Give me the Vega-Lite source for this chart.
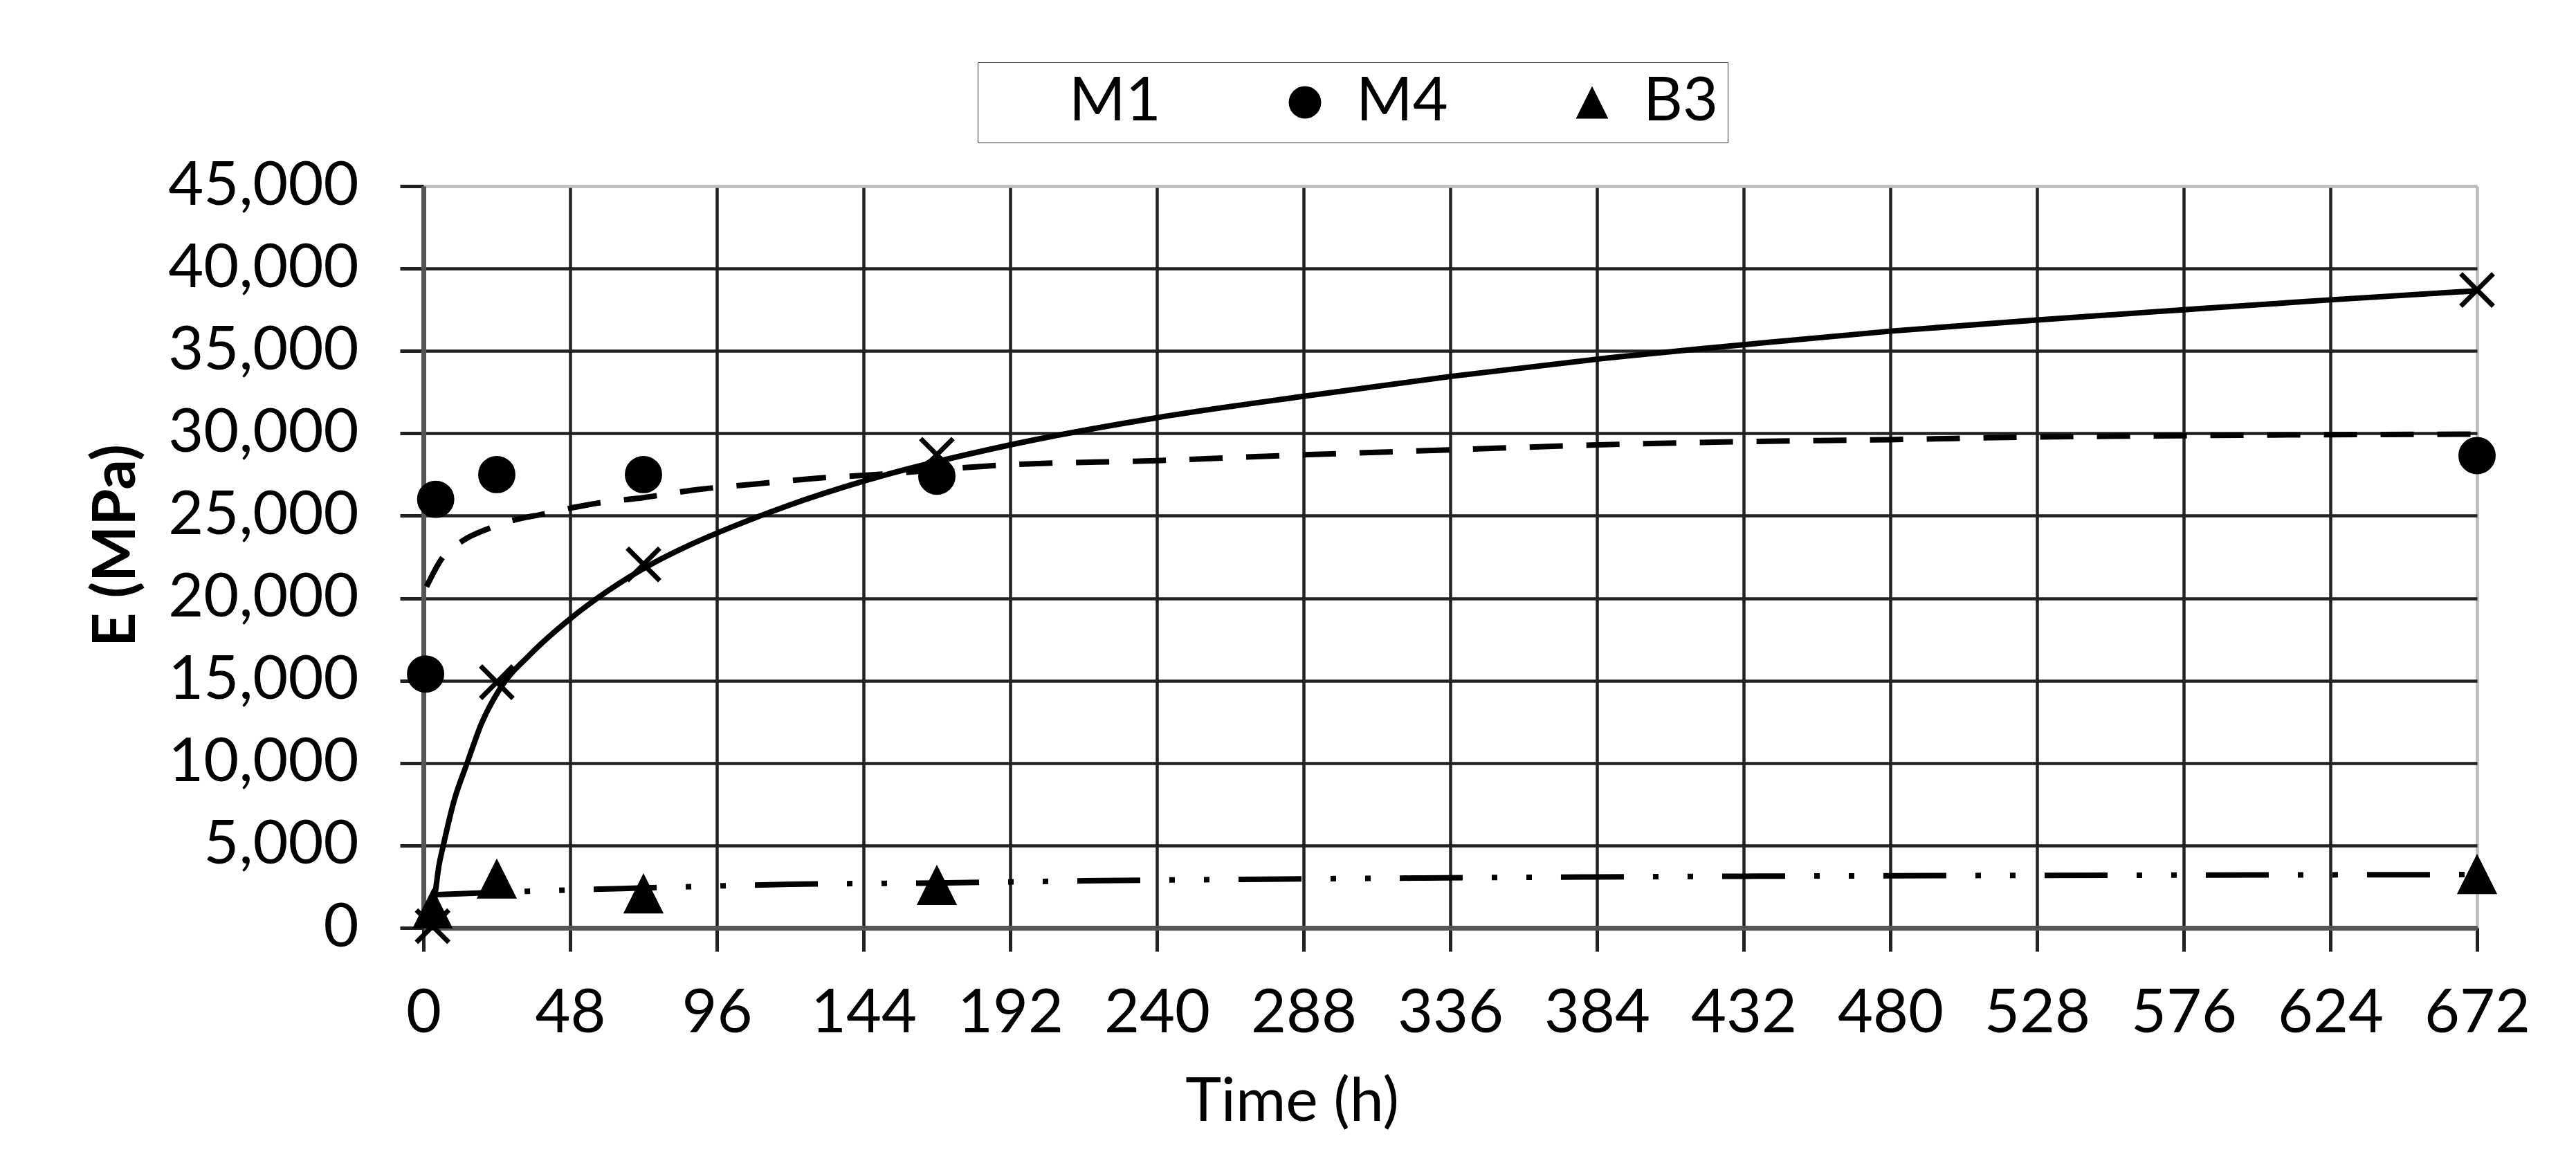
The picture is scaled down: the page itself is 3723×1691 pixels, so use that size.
{
  "$schema": "https://vega.github.io/schema/vega-lite/v6.json",
  "autosize": {"type": "none"},
  "width": 2968,
  "height": 1072,
  "padding": {"left": 612, "top": 269, "right": 143, "bottom": 350},
  "background": "white",
  "config": {
    "view": {"stroke": null},
    "font": "Lato",
    "axis": {
      "labelFont": "Lato",
      "labelFontSize": 88,
      "labelColor": "black",
      "labelLimit": 600,
      "titleFont": "Lato",
      "titleColor": "black",
      "domainColor": "#555555",
      "domainWidth": 7,
      "tickColor": "#222222",
      "tickWidth": 5,
      "tickSize": 34,
      "gridWidth": 4.5
    }
  },
  "encoding": {
    "x": {
      "field": "time",
      "type": "quantitative",
      "scale": {"domain": [0, 672], "nice": false, "zero": false},
      "axis": {
        "values": [0, 48, 96, 144, 192, 240, 288, 336, 384, 432, 480, 528, 576, 624, 672],
        "grid": true,
        "gridColor": {"condition": {"test": "datum.value == 672", "value": "#bbbbbb"}, "value": "#222222"},
        "labelPadding": 46,
        "labelFlush": false,
        "title": "Time (h)",
        "titleFontSize": 88,
        "titleFontWeight": "normal",
        "titlePadding": 40,
        "titleX": 1255
      }
    },
    "y": {
      "field": "E",
      "type": "quantitative",
      "scale": {"domain": [0, 45000], "nice": false},
      "axis": {
        "values": [0, 5000, 10000, 15000, 20000, 25000, 30000, 35000, 40000, 45000],
        "format": ",.0f",
        "grid": true,
        "gridColor": {"condition": {"test": "datum.value == 45000", "value": "#bbbbbb"}, "value": "#222222"},
        "labelPadding": 60,
        "labelFlush": false,
        "title": "E (MPa)",
        "titleFontSize": 86,
        "titleFontWeight": "bold",
        "titleAngle": -90,
        "titleAlign": "center",
        "titleBaseline": "middle",
        "titleX": -444,
        "titleY": 519
      }
    }
  },
  "layer": [
    {
      "data": {
        "values": [
          {"time": 3, "E": 800},
          {"time": 4, "E": 2300},
          {"time": 5, "E": 3700},
          {"time": 6.5, "E": 5000},
          {"time": 10, "E": 7700},
          {"time": 14.3, "E": 10000},
          {"time": 19, "E": 12400},
          {"time": 25, "E": 14500},
          {"time": 35, "E": 16600},
          {"time": 48, "E": 18750},
          {"time": 60, "E": 20400},
          {"time": 73, "E": 21900},
          {"time": 88, "E": 23300},
          {"time": 98, "E": 24100},
          {"time": 119, "E": 25600},
          {"time": 144, "E": 27100},
          {"time": 192, "E": 29300},
          {"time": 240, "E": 30950},
          {"time": 288, "E": 32250},
          {"time": 336, "E": 33450},
          {"time": 384, "E": 34500},
          {"time": 432, "E": 35380},
          {"time": 480, "E": 36200},
          {"time": 528, "E": 36880},
          {"time": 576, "E": 37500},
          {"time": 624, "E": 38100},
          {"time": 672, "E": 38650}
        ]
      },
      "mark": {"type": "line", "color": "black", "strokeWidth": 8, "interpolate": "monotone"},
      "encoding": {}
    },
    {
      "data": {
        "values": [
          {"time": 1, "E": 20700},
          {"time": 6, "E": 22400},
          {"time": 13, "E": 23500},
          {"time": 21, "E": 24200},
          {"time": 30, "E": 24750},
          {"time": 39, "E": 25100},
          {"time": 49, "E": 25500},
          {"time": 58, "E": 25800},
          {"time": 72, "E": 26100},
          {"time": 88, "E": 26550},
          {"time": 110, "E": 26950},
          {"time": 130, "E": 27300},
          {"time": 144, "E": 27450},
          {"time": 192, "E": 28100},
          {"time": 240, "E": 28350},
          {"time": 288, "E": 28700},
          {"time": 336, "E": 29000},
          {"time": 384, "E": 29300},
          {"time": 432, "E": 29500},
          {"time": 480, "E": 29620},
          {"time": 528, "E": 29780},
          {"time": 576, "E": 29860},
          {"time": 624, "E": 29920},
          {"time": 672, "E": 29950}
        ]
      },
      "mark": {"type": "line", "color": "black", "strokeWidth": 8, "interpolate": "monotone", "strokeDash": [48, 34]},
      "encoding": {}
    },
    {
      "data": {
        "values": [
          {"time": 3, "E": 2000},
          {"time": 24, "E": 2150},
          {"time": 48, "E": 2300},
          {"time": 72, "E": 2420},
          {"time": 100, "E": 2560},
          {"time": 120, "E": 2640},
          {"time": 168, "E": 2720},
          {"time": 216, "E": 2850},
          {"time": 268, "E": 2940},
          {"time": 324, "E": 3020},
          {"time": 384, "E": 3090},
          {"time": 432, "E": 3130},
          {"time": 480, "E": 3160},
          {"time": 576, "E": 3200},
          {"time": 672, "E": 3230}
        ]
      },
      "mark": {"type": "line", "color": "black", "strokeWidth": 8, "interpolate": "monotone", "strokeDash": [91, 42, 8, 42, 8, 42]},
      "encoding": {}
    },
    {
      "data": {
        "values": [
          {"series": "M1", "time": 3, "E": 100},
          {"series": "M1", "time": 24, "E": 14900},
          {"series": "M1", "time": 72, "E": 22050},
          {"series": "M1", "time": 168, "E": 28700},
          {"series": "M1", "time": 672, "E": 38700},
          {"series": "M4", "time": 0.7, "E": 15400},
          {"series": "M4", "time": 4, "E": 26000},
          {"series": "M4", "time": 24, "E": 27500},
          {"series": "M4", "time": 72, "E": 27500},
          {"series": "M4", "time": 168, "E": 27400},
          {"series": "M4", "time": 672, "E": 28650},
          {"series": "B3", "time": 3, "E": 1100},
          {"series": "B3", "time": 24, "E": 2900},
          {"series": "B3", "time": 72, "E": 2000},
          {"series": "B3", "time": 168, "E": 2520},
          {"series": "B3", "time": 672, "E": 3180}
        ]
      },
      "mark": {"type": "point", "filled": true, "fill": "black", "stroke": "black", "strokeWidth": 7, "opacity": 1, "size": 2200},
      "encoding": {
        "shape": {
          "field": "series",
          "type": "nominal",
          "scale": {"domain": ["M1", "M4", "B3"], "range": ["M-1,-1L1,1M-1,1L1,-1", "circle", "M0,-1L1,1L-1,1Z"]},
          "legend": {
            "title": null,
            "orient": "none",
            "legendX": 801,
            "legendY": -179,
            "direction": "horizontal",
            "labelFont": "Lato",
            "labelFontSize": 88,
            "labelColor": "black",
            "labelLimit": 600,
            "labelOffset": 30,
            "symbolSize": 2200,
            "symbolStrokeWidth": 7,
            "symbolFillColor": "black",
            "symbolStrokeColor": "black",
            "symbolOpacity": 1,
            "columnPadding": 164,
            "padding": 14,
            "strokeColor": "#333333"
          }
        }
      }
    }
  ]
}
